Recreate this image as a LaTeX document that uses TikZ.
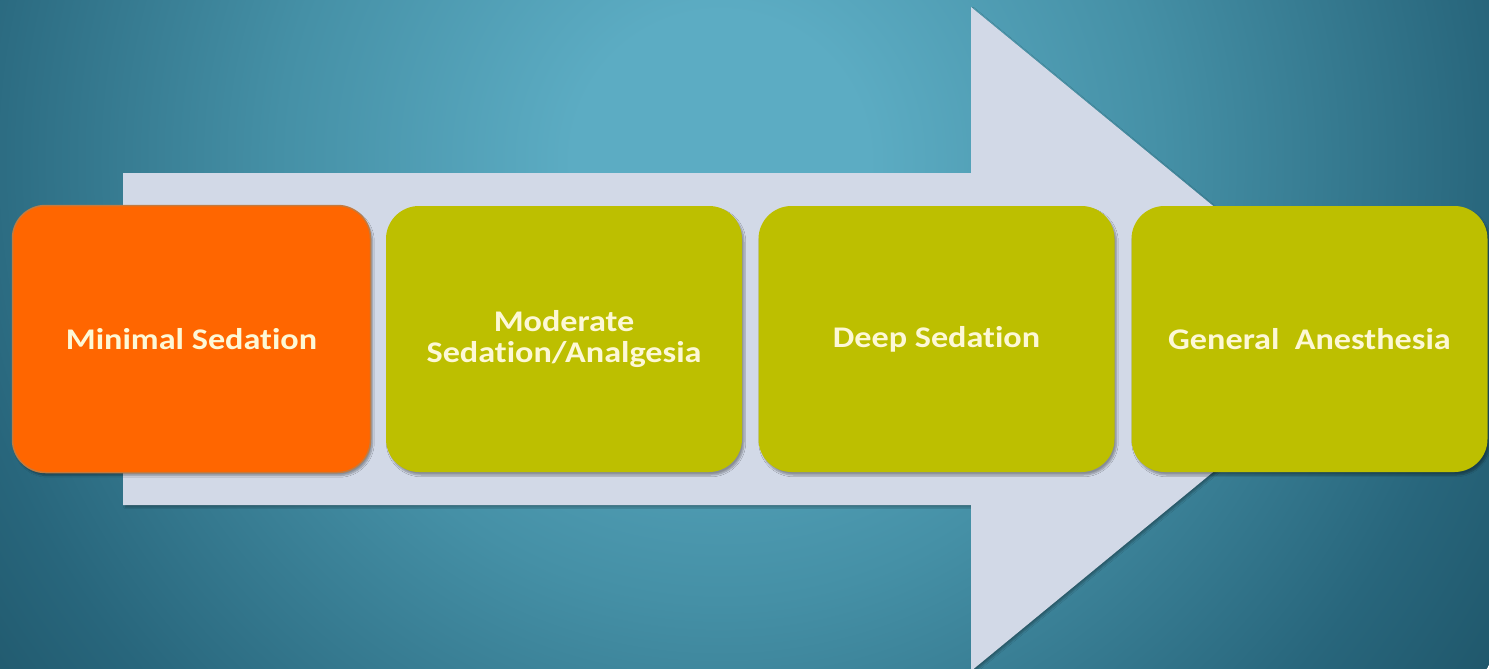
\documentclass[tikz,border=0pt]{standalone}
\usepackage{xcolor}
\usepackage{tikz}
\usepackage{fontspec}
\newfontfamily\boxfont{Carlito}[FakeStretch=1.14,Ligatures=NoCommon]
\usetikzlibrary{shadows.blur}
\usetikzlibrary{shapes}

\definecolor{bglight}{RGB}{92,172,195}
\definecolor{bgmid}{RGB}{69,144,166}
\definecolor{bgdark}{RGB}{40,102,124}
\definecolor{bgdarker}{RGB}{32,88,108}
\definecolor{arrowfill}{RGB}{210,217,231}
\definecolor{orangefill}{RGB}{255,102,0}
\definecolor{orangeline}{RGB}{196,122,62}
\definecolor{olivefill}{RGB}{189,191,0}
\definecolor{textcream}{RGB}{253,248,214}

\pgfdeclareradialshading{bgglow}{\pgfpoint{0bp}{0bp}}{color(0bp)=(bglight); color(4bp)=(bglight); color(12bp)=(bgmid); color(21bp)=(bgdark); color(25bp)=(bgdarker); color(50bp)=(bgdarker)}

\tikzset{
  stagebox/.style={rectangle, rounded corners=33pt, minimum width=356pt, minimum height=266pt,
    inner sep=0pt, align=center, text=textcream, font=\boxfont\bfseries\fontsize{30}{31}\selectfont,
    blur shadow={shadow xshift=2pt, shadow yshift=-3pt, shadow opacity=35, shadow blur steps=6}},
  firststage/.style={stagebox, fill=orangefill, draw=orangeline, line width=1.5pt,
    minimum width=358pt, minimum height=267pt},
  nextstage/.style={stagebox, fill=olivefill},
}

\begin{document}
\begin{tikzpicture}[x=1pt,y=1pt,yscale=-1,xscale=1]
\useasboundingbox (0,0) rectangle (1489,669);

%Background: radial glow
\begin{scope}
\clip (0,0) rectangle (1489,669);
\shade[shading=bgglow] (720,160) circle (920);
\end{scope}

%Shape: Right Arrow
\fill [arrowfill, blur shadow={shadow xshift=2pt, shadow yshift=-2pt, shadow opacity=30, shadow blur steps=4}]
  (123,173) -- (971,173) -- (971,7) -- (1375,339) -- (971,671) -- (971,505) -- (123,505) -- cycle ;

%Shape: Rounded Rect
\node [firststage] (minimal) at (191.5,339) {Minimal Sedation};
%Shape: Rounded Rect
\node [nextstage] (moderate) at (564,339) {Moderate\\Sedation/Analgesia};
%Shape: Rounded Rect
\node [nextstage] (deep) at (936.5,339) {Deep Sedation};
%Shape: Rounded Rect
\node [nextstage] (general) at (1309.5,339) {General\ \ Anesthesia};

\end{tikzpicture}
\end{document}
